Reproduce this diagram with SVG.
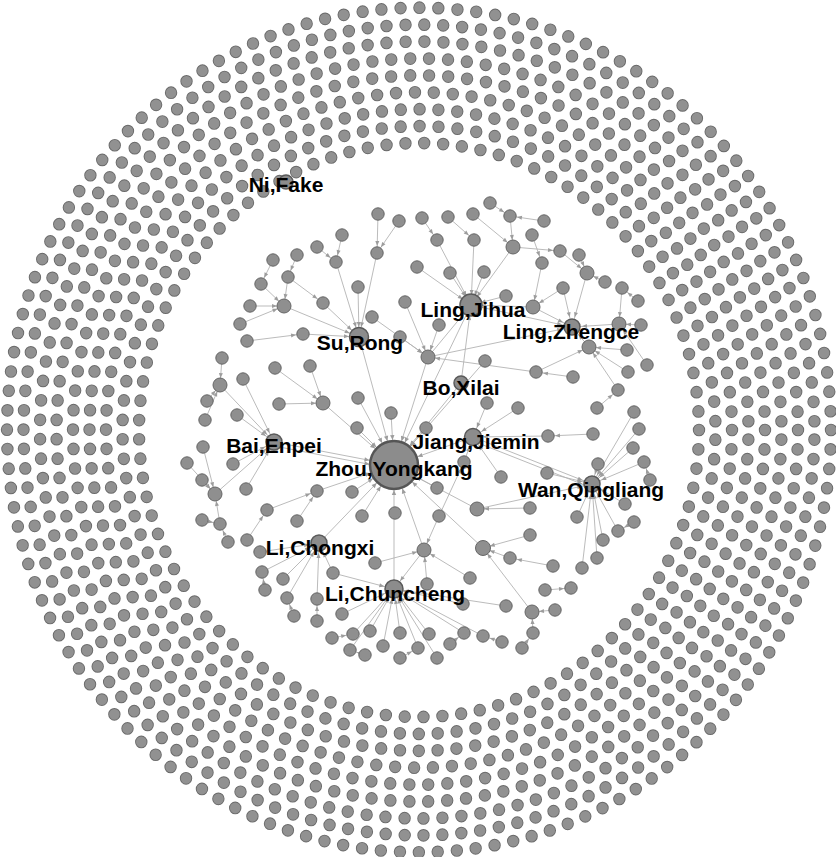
<svg xmlns="http://www.w3.org/2000/svg" width="836" height="857" viewBox="0 0 836 857">
<style>
.ro{fill:none;stroke:#6a6a6a;stroke-width:12.4;stroke-linecap:round}
.ri{fill:none;stroke:#919191;stroke-width:10.6;stroke-linecap:round}
#edges line{stroke:#b3b3b3;stroke-width:0.9;fill:none}
#edges .m{marker-end:url(#am)}
#edges .h{marker-end:url(#ah)}
#edges .z{marker-end:url(#az)}
#nodes circle{fill:#8f8f8f;stroke:#666;stroke-width:1}
#nodes .hub circle{fill:#8c8c8c;stroke:#5a5a5a;stroke-width:1.5}
#nodes #zhou circle{stroke-width:2.5;stroke:#555}
.lb{font-family:"Liberation Sans",Arial,sans-serif;font-weight:bold;font-size:21px;fill:#000;text-anchor:middle}
</style>
<defs>
<marker id="am" markerUnits="userSpaceOnUse" orient="auto" refX="0" refY="0" markerWidth="1" markerHeight="1" overflow="visible"><path d="M-12,-2 L-7,0 L-12,2z" fill="#9d9d9d"/></marker>
<marker id="ah" markerUnits="userSpaceOnUse" orient="auto" refX="0" refY="0" markerWidth="1" markerHeight="1" overflow="visible"><path d="M-15,-2 L-10,0 L-15,2z" fill="#9d9d9d"/></marker>
<marker id="az" markerUnits="userSpaceOnUse" orient="auto" refX="0" refY="0" markerWidth="1" markerHeight="1" overflow="visible"><path d="M-30,-2.2 L-25,0 L-30,2.2z" fill="#9d9d9d"/></marker>
</defs>
<rect width="836" height="857" fill="#fff"/>
<g id="ring" transform="translate(419 430) scale(1 1.025)">
<circle class="ro" r="280" stroke-dasharray="0 18.917"/><circle class="ri" r="280" stroke-dasharray="0 18.917"/>
<circle class="ro" r="296.5" stroke-dasharray="0 19.010" stroke-dashoffset="9.5"/><circle class="ri" r="296.5" stroke-dasharray="0 19.010" stroke-dashoffset="9.5"/>
<circle class="ro" r="313" stroke-dasharray="0 18.910"/><circle class="ri" r="313" stroke-dasharray="0 18.910"/>
<circle class="ro" r="329.5" stroke-dasharray="0 18.994" stroke-dashoffset="9.5"/><circle class="ri" r="329.5" stroke-dasharray="0 18.994" stroke-dashoffset="9.5"/>
<circle class="ro" r="346" stroke-dasharray="0 19.070"/><circle class="ri" r="346" stroke-dasharray="0 19.070"/>
<circle class="ro" r="362.5" stroke-dasharray="0 18.980" stroke-dashoffset="9.5"/><circle class="ri" r="362.5" stroke-dasharray="0 18.980" stroke-dashoffset="9.5"/>
<circle class="ro" r="379" stroke-dasharray="0 19.051"/><circle class="ri" r="379" stroke-dasharray="0 19.051"/>
<circle class="ro" r="395.5" stroke-dasharray="0 18.969" stroke-dashoffset="9.5"/><circle class="ri" r="395.5" stroke-dasharray="0 18.969" stroke-dashoffset="9.5"/>
<circle class="ro" r="412" stroke-dasharray="0 19.034"/><circle class="ri" r="412" stroke-dasharray="0 19.034"/>
</g>
<g id="edges">
<line x1="342" y1="235" x2="336" y2="262" class="m"/>
<line x1="317" y1="247" x2="336" y2="262" class="m"/>
<line x1="336" y1="262" x2="359" y2="337" class="h"/>
<line x1="297" y1="255" x2="288" y2="277" class="m"/>
<line x1="288" y1="277" x2="284" y2="306" class="m"/>
<line x1="273" y1="260" x2="261" y2="284" class="m"/>
<line x1="261" y1="284" x2="284" y2="306" class="m"/>
<line x1="250" y1="306" x2="284" y2="306" class="m"/>
<line x1="240" y1="324" x2="284" y2="306" class="m"/>
<line x1="288" y1="277" x2="323" y2="303" class="m"/>
<line x1="284" y1="306" x2="359" y2="337" class="h"/>
<line x1="323" y1="303" x2="359" y2="337" class="h"/>
<line x1="247" y1="341" x2="303" y2="334" class="m"/>
<line x1="303" y1="334" x2="359" y2="337" class="h"/>
<line x1="358" y1="287" x2="359" y2="337" class="h"/>
<line x1="378" y1="214" x2="377" y2="253" class="m"/>
<line x1="399" y1="221" x2="377" y2="253" class="m"/>
<line x1="377" y1="253" x2="359" y2="337" class="h"/>
<line x1="372" y1="317" x2="428" y2="357" class="m"/>
<line x1="400" y1="337" x2="428" y2="357" class="m"/>
<line x1="405" y1="302" x2="428" y2="357" class="m"/>
<line x1="439" y1="325" x2="428" y2="357" class="m"/>
<line x1="359" y1="337" x2="394" y2="465" class="z"/>
<line x1="222" y1="358" x2="220" y2="385" class="m"/>
<line x1="207" y1="401" x2="220" y2="385" class="m"/>
<line x1="205" y1="420" x2="220" y2="385" class="m"/>
<line x1="220" y1="385" x2="274" y2="442" class="h"/>
<line x1="243" y1="379" x2="274" y2="442" class="h"/>
<line x1="237" y1="415" x2="274" y2="442" class="h"/>
<line x1="275" y1="368" x2="323" y2="403" class="m"/>
<line x1="310" y1="366" x2="323" y2="403" class="m"/>
<line x1="279" y1="404" x2="323" y2="403" class="m"/>
<line x1="323" y1="403" x2="394" y2="465" class="z"/>
<line x1="358" y1="398" x2="394" y2="465" class="z"/>
<line x1="391" y1="413" x2="394" y2="465" class="z"/>
<line x1="357" y1="428" x2="394" y2="465" class="z"/>
<line x1="426" y1="428" x2="394" y2="465" class="z"/>
<line x1="203" y1="447" x2="215" y2="494" class="m"/>
<line x1="202" y1="480" x2="215" y2="494" class="m"/>
<line x1="187" y1="463" x2="215" y2="494" class="m"/>
<line x1="215" y1="494" x2="274" y2="442" class="h"/>
<line x1="233" y1="464" x2="274" y2="442" class="h"/>
<line x1="246" y1="489" x2="274" y2="442" class="h"/>
<line x1="274" y1="442" x2="394" y2="465" class="z"/>
<line x1="274" y1="446" x2="394" y2="469" class="z"/>
<line x1="220" y1="524" x2="215" y2="494" class="m"/>
<line x1="228" y1="542" x2="220" y2="524" class="m"/>
<line x1="202" y1="520" x2="220" y2="524" class="m"/>
<line x1="317" y1="491" x2="394" y2="465" class="z"/>
<line x1="352" y1="492" x2="394" y2="465" class="z"/>
<line x1="267" y1="510" x2="317" y2="491" class="m"/>
<line x1="247" y1="540" x2="267" y2="510" class="m"/>
<line x1="297" y1="521" x2="317" y2="491" class="m"/>
<line x1="319" y1="543" x2="394" y2="465" class="z"/>
<line x1="260" y1="552" x2="319" y2="543" class="h"/>
<line x1="262" y1="572" x2="319" y2="543" class="h"/>
<line x1="265" y1="590" x2="262" y2="572" class="m"/>
<line x1="283" y1="579" x2="319" y2="543" class="h"/>
<line x1="287" y1="598" x2="319" y2="543" class="h"/>
<line x1="294" y1="616" x2="287" y2="598" class="m"/>
<line x1="333" y1="573" x2="319" y2="543" class="h"/>
<line x1="317" y1="599" x2="319" y2="543" class="h"/>
<line x1="317" y1="621" x2="317" y2="599" class="m"/>
<line x1="333" y1="573" x2="394" y2="589" class="h"/>
<line x1="342" y1="614" x2="394" y2="589" class="h"/>
<line x1="332" y1="638" x2="353" y2="634" class="m"/>
<line x1="353" y1="634" x2="394" y2="589" class="h"/>
<line x1="394" y1="589" x2="394" y2="465" class="z"/>
<line x1="362" y1="516" x2="394" y2="465" class="z"/>
<line x1="424" y1="550" x2="394" y2="465" class="z"/>
<line x1="424" y1="550" x2="394" y2="589" class="h"/>
<line x1="375" y1="563" x2="424" y2="550" class="m"/>
<line x1="439" y1="516" x2="424" y2="550" class="m"/>
<line x1="439" y1="516" x2="464" y2="462" class="m"/>
<line x1="464" y1="462" x2="473" y2="437" class="h"/>
<line x1="470" y1="578" x2="424" y2="550" class="m"/>
<line x1="427" y1="584" x2="424" y2="550" class="m"/>
<line x1="437" y1="488" x2="394" y2="465" class="z"/>
<line x1="501" y1="477" x2="473" y2="437" class="h"/>
<line x1="477" y1="509" x2="592" y2="484" class="h"/>
<line x1="477" y1="509" x2="394" y2="465" class="z"/>
<line x1="483" y1="548" x2="394" y2="465" class="z"/>
<line x1="510" y1="558" x2="483" y2="548" class="m"/>
<line x1="463" y1="604" x2="394" y2="589" class="h"/>
<line x1="506" y1="606" x2="394" y2="589" class="h"/>
<line x1="370" y1="631" x2="394" y2="589" class="h"/>
<line x1="400" y1="633" x2="394" y2="589" class="h"/>
<line x1="429" y1="634" x2="394" y2="589" class="h"/>
<line x1="464" y1="633" x2="394" y2="589" class="h"/>
<line x1="483" y1="636" x2="394" y2="589" class="h"/>
<line x1="350" y1="650" x2="394" y2="589" class="h"/>
<line x1="383" y1="646" x2="394" y2="589" class="h"/>
<line x1="418" y1="648" x2="394" y2="589" class="h"/>
<line x1="450" y1="644" x2="464" y2="633" class="m"/>
<line x1="365" y1="655" x2="350" y2="650" class="m"/>
<line x1="400" y1="658" x2="418" y2="648" class="m"/>
<line x1="437" y1="658" x2="394" y2="589" class="h"/>
<line x1="502" y1="642" x2="483" y2="636" class="m"/>
<line x1="422" y1="218" x2="437" y2="240" class="m"/>
<line x1="437" y1="240" x2="471" y2="305" class="h"/>
<line x1="448" y1="217" x2="474" y2="240" class="m"/>
<line x1="474" y1="240" x2="471" y2="305" class="h"/>
<line x1="473" y1="214" x2="513" y2="247" class="m"/>
<line x1="490" y1="203" x2="510" y2="216" class="m"/>
<line x1="510" y1="216" x2="513" y2="247" class="m"/>
<line x1="513" y1="247" x2="471" y2="305" class="h"/>
<line x1="417" y1="267" x2="471" y2="305" class="h"/>
<line x1="450" y1="273" x2="471" y2="305" class="h"/>
<line x1="484" y1="272" x2="471" y2="305" class="h"/>
<line x1="506" y1="296" x2="471" y2="305" class="h"/>
<line x1="428" y1="357" x2="471" y2="305" class="h"/>
<line x1="485" y1="361" x2="394" y2="465" class="z"/>
<line x1="471" y1="305" x2="394" y2="465" class="z"/>
<line x1="461" y1="383" x2="471" y2="305" class="h"/>
<line x1="461" y1="383" x2="394" y2="465" class="z"/>
<line x1="487" y1="403" x2="473" y2="437" class="h"/>
<line x1="518" y1="408" x2="473" y2="437" class="h"/>
<line x1="428" y1="357" x2="572" y2="327" class="h"/>
<line x1="428" y1="357" x2="394" y2="465" class="z"/>
<line x1="544" y1="221" x2="510" y2="216" class="m"/>
<line x1="532" y1="235" x2="542" y2="263" class="m"/>
<line x1="560" y1="251" x2="587" y2="273" class="m"/>
<line x1="579" y1="255" x2="587" y2="273" class="m"/>
<line x1="605" y1="282" x2="587" y2="273" class="m"/>
<line x1="587" y1="273" x2="572" y2="327" class="h"/>
<line x1="542" y1="263" x2="533" y2="307" class="m"/>
<line x1="563" y1="288" x2="533" y2="307" class="m"/>
<line x1="563" y1="288" x2="572" y2="327" class="h"/>
<line x1="513" y1="247" x2="560" y2="251" class="m"/>
<line x1="533" y1="307" x2="572" y2="327" class="h"/>
<line x1="533" y1="307" x2="471" y2="305" class="h"/>
<line x1="471" y1="305" x2="572" y2="327" class="h"/>
<line x1="622" y1="288" x2="619" y2="324" class="m"/>
<line x1="638" y1="301" x2="622" y2="288" class="m"/>
<line x1="619" y1="324" x2="572" y2="327" class="h"/>
<line x1="641" y1="325" x2="619" y2="324" class="m"/>
<line x1="589" y1="347" x2="572" y2="327" class="h"/>
<line x1="627" y1="350" x2="589" y2="347" class="m"/>
<line x1="647" y1="365" x2="619" y2="324" class="m"/>
<line x1="628" y1="372" x2="589" y2="347" class="m"/>
<line x1="536" y1="372" x2="589" y2="347" class="m"/>
<line x1="536" y1="372" x2="428" y2="357" class="m"/>
<line x1="573" y1="377" x2="536" y2="372" class="m"/>
<line x1="618" y1="390" x2="589" y2="347" class="m"/>
<line x1="597" y1="408" x2="618" y2="390" class="m"/>
<line x1="634" y1="412" x2="592" y2="484" class="h"/>
<line x1="548" y1="436" x2="473" y2="437" class="h"/>
<line x1="593" y1="434" x2="548" y2="436" class="m"/>
<line x1="639" y1="429" x2="592" y2="484" class="h"/>
<line x1="633" y1="448" x2="592" y2="484" class="h"/>
<line x1="598" y1="464" x2="592" y2="484" class="h"/>
<line x1="547" y1="473" x2="592" y2="484" class="h"/>
<line x1="473" y1="437" x2="592" y2="484" class="h"/>
<line x1="473" y1="441" x2="592" y2="488" class="h"/>
<line x1="644" y1="462" x2="592" y2="484" class="h"/>
<line x1="650" y1="480" x2="644" y2="462" class="m"/>
<line x1="625" y1="504" x2="592" y2="484" class="h"/>
<line x1="577" y1="517" x2="592" y2="484" class="h"/>
<line x1="530" y1="508" x2="477" y2="509" class="m"/>
<line x1="530" y1="535" x2="483" y2="548" class="m"/>
<line x1="618" y1="531" x2="592" y2="484" class="h"/>
<line x1="634" y1="522" x2="618" y2="531" class="m"/>
<line x1="603" y1="540" x2="592" y2="484" class="h"/>
<line x1="597" y1="558" x2="592" y2="484" class="h"/>
<line x1="582" y1="568" x2="592" y2="484" class="h"/>
<line x1="553" y1="566" x2="510" y2="558" class="m"/>
<line x1="545" y1="590" x2="571" y2="588" class="m"/>
<line x1="532" y1="612" x2="483" y2="548" class="m"/>
<line x1="555" y1="610" x2="532" y2="612" class="m"/>
<line x1="533" y1="633" x2="532" y2="612" class="m"/>
<line x1="522" y1="648" x2="533" y2="633" class="m"/>
<line x1="473" y1="437" x2="394" y2="465" class="z"/>
</g>
<g id="nodes">
<g id="n1"><circle cx="342" cy="235" r="6.2"/></g>
<g id="n2"><circle cx="317" cy="247" r="6.2"/></g>
<g id="n3"><circle cx="336" cy="262" r="6.2"/></g>
<g id="n4"><circle cx="297" cy="255" r="6.2"/></g>
<g id="n5"><circle cx="273" cy="260" r="6.2"/></g>
<g id="n6"><circle cx="288" cy="277" r="6.2"/></g>
<g id="n7"><circle cx="261" cy="284" r="6.2"/></g>
<g id="n8"><circle cx="284" cy="306" r="7"/></g>
<g id="n9"><circle cx="250" cy="306" r="6.2"/></g>
<g id="n10"><circle cx="323" cy="303" r="6.2"/></g>
<g id="n11"><circle cx="240" cy="324" r="6.2"/></g>
<g id="n12"><circle cx="303" cy="334" r="6.2"/></g>
<g id="n13"><circle cx="247" cy="341" r="6.2"/></g>
<g id="n14"><circle cx="358" cy="287" r="6.2"/></g>
<g id="n15"><circle cx="378" cy="214" r="6.2"/></g>
<g id="n16"><circle cx="399" cy="221" r="6.2"/></g>
<g id="n17"><circle cx="377" cy="253" r="6.2"/></g>
<g id="n18"><circle cx="372" cy="317" r="6.2"/></g>
<g id="n19"><circle cx="400" cy="337" r="6.2"/></g>
<g id="n20"><circle cx="222" cy="358" r="6.2"/></g>
<g id="n21"><circle cx="220" cy="385" r="7"/></g>
<g id="n22"><circle cx="207" cy="401" r="6.2"/></g>
<g id="n23"><circle cx="205" cy="420" r="6.2"/></g>
<g id="n24"><circle cx="243" cy="379" r="6.2"/></g>
<g id="n25"><circle cx="275" cy="368" r="6.2"/></g>
<g id="n26"><circle cx="310" cy="366" r="6.2"/></g>
<g id="n27"><circle cx="279" cy="404" r="6.2"/></g>
<g id="n28"><circle cx="323" cy="403" r="7"/></g>
<g id="n29"><circle cx="358" cy="398" r="6.2"/></g>
<g id="n30"><circle cx="237" cy="415" r="6.2"/></g>
<g id="n31"><circle cx="391" cy="413" r="6.2"/></g>
<g id="n32"><circle cx="357" cy="428" r="6.2"/></g>
<g id="n33"><circle cx="426" cy="428" r="6.2"/></g>
<g id="n34"><circle cx="203" cy="447" r="6.2"/></g>
<g id="n35"><circle cx="233" cy="464" r="6.2"/></g>
<g id="n36"><circle cx="215" cy="494" r="7"/></g>
<g id="n37"><circle cx="202" cy="480" r="6.2"/></g>
<g id="n38"><circle cx="187" cy="463" r="6.2"/></g>
<g id="n39"><circle cx="246" cy="489" r="6.2"/></g>
<g id="n40"><circle cx="202" cy="520" r="6.2"/></g>
<g id="n41"><circle cx="220" cy="524" r="6.2"/></g>
<g id="n42"><circle cx="228" cy="542" r="6.2"/></g>
<g id="n43"><circle cx="317" cy="491" r="6.2"/></g>
<g id="n44"><circle cx="352" cy="492" r="6.2"/></g>
<g id="n45"><circle cx="267" cy="510" r="6.2"/></g>
<g id="n46"><circle cx="297" cy="521" r="6.2"/></g>
<g id="n47"><circle cx="247" cy="540" r="6.2"/></g>
<g id="n48"><circle cx="260" cy="552" r="6.2"/></g>
<g id="n49"><circle cx="262" cy="572" r="6.2"/></g>
<g id="n50"><circle cx="265" cy="590" r="6.2"/></g>
<g id="n51"><circle cx="283" cy="579" r="6.2"/></g>
<g id="n52"><circle cx="287" cy="598" r="6.2"/></g>
<g id="n53"><circle cx="294" cy="616" r="6.2"/></g>
<g id="n54"><circle cx="333" cy="573" r="6.2"/></g>
<g id="n55"><circle cx="317" cy="599" r="6.2"/></g>
<g id="n56"><circle cx="317" cy="621" r="6.2"/></g>
<g id="n57"><circle cx="342" cy="614" r="6.2"/></g>
<g id="n58"><circle cx="332" cy="638" r="6.2"/></g>
<g id="n59"><circle cx="353" cy="634" r="6.2"/></g>
<g id="n61"><circle cx="395" cy="513" r="6.2"/></g>
<g id="n62"><circle cx="362" cy="516" r="6.2"/></g>
<g id="n63"><circle cx="437" cy="488" r="6.2"/></g>
<g id="n64"><circle cx="439" cy="516" r="6.2"/></g>
<g id="n65"><circle cx="464" cy="462" r="6.2"/></g>
<g id="n66"><circle cx="501" cy="477" r="6.2"/></g>
<g id="n67"><circle cx="477" cy="509" r="7"/></g>
<g id="n68"><circle cx="424" cy="550" r="7"/></g>
<g id="n69"><circle cx="375" cy="563" r="6.2"/></g>
<g id="n70"><circle cx="483" cy="548" r="7.5"/></g>
<g id="n71"><circle cx="510" cy="558" r="6.2"/></g>
<g id="n72"><circle cx="470" cy="578" r="6.2"/></g>
<g id="n73"><circle cx="427" cy="584" r="6.2"/></g>
<g id="n74"><circle cx="463" cy="604" r="6.2"/></g>
<g id="n75"><circle cx="506" cy="606" r="6.2"/></g>
<g id="n76"><circle cx="370" cy="631" r="6.2"/></g>
<g id="n77"><circle cx="400" cy="633" r="6.2"/></g>
<g id="n78"><circle cx="429" cy="634" r="6.2"/></g>
<g id="n79"><circle cx="464" cy="633" r="6.2"/></g>
<g id="n80"><circle cx="483" cy="636" r="6.2"/></g>
<g id="n81"><circle cx="502" cy="642" r="6.2"/></g>
<g id="n82"><circle cx="383" cy="646" r="6.2"/></g>
<g id="n83"><circle cx="418" cy="648" r="6.2"/></g>
<g id="n84"><circle cx="450" cy="644" r="6.2"/></g>
<g id="n85"><circle cx="365" cy="655" r="6.2"/></g>
<g id="n86"><circle cx="400" cy="658" r="6.2"/></g>
<g id="n87"><circle cx="437" cy="658" r="6.2"/></g>
<g id="n88"><circle cx="350" cy="650" r="6.2"/></g>
<g id="n89"><circle cx="422" cy="218" r="6.2"/></g>
<g id="n90"><circle cx="437" cy="240" r="6.2"/></g>
<g id="n91"><circle cx="448" cy="217" r="6.2"/></g>
<g id="n92"><circle cx="474" cy="240" r="6.2"/></g>
<g id="n93"><circle cx="473" cy="214" r="6.2"/></g>
<g id="n94"><circle cx="490" cy="203" r="6.2"/></g>
<g id="n95"><circle cx="510" cy="216" r="6.2"/></g>
<g id="n96"><circle cx="513" cy="247" r="7"/></g>
<g id="n97"><circle cx="417" cy="267" r="6.2"/></g>
<g id="n98"><circle cx="450" cy="273" r="6.2"/></g>
<g id="n99"><circle cx="484" cy="272" r="6.2"/></g>
<g id="n100"><circle cx="506" cy="296" r="6.2"/></g>
<g id="n101"><circle cx="405" cy="302" r="6.2"/></g>
<g id="n102"><circle cx="439" cy="325" r="6.2"/></g>
<g id="n103"><circle cx="428" cy="357" r="7"/></g>
<g id="n104"><circle cx="485" cy="361" r="6.2"/></g>
<g id="n105"><circle cx="487" cy="403" r="6.2"/></g>
<g id="n106"><circle cx="518" cy="408" r="6.2"/></g>
<g id="n110"><circle cx="544" cy="221" r="6.2"/></g>
<g id="n111"><circle cx="532" cy="235" r="6.2"/></g>
<g id="n112"><circle cx="560" cy="251" r="6.2"/></g>
<g id="n113"><circle cx="579" cy="255" r="6.2"/></g>
<g id="n114"><circle cx="587" cy="273" r="7"/></g>
<g id="n115"><circle cx="605" cy="282" r="6.2"/></g>
<g id="n116"><circle cx="542" cy="263" r="6.2"/></g>
<g id="n117"><circle cx="563" cy="288" r="6.2"/></g>
<g id="n118"><circle cx="533" cy="307" r="7"/></g>
<g id="n119"><circle cx="622" cy="288" r="6.2"/></g>
<g id="n120"><circle cx="638" cy="301" r="6.2"/></g>
<g id="n121"><circle cx="619" cy="324" r="7"/></g>
<g id="n122"><circle cx="641" cy="325" r="6.2"/></g>
<g id="n123"><circle cx="589" cy="347" r="7"/></g>
<g id="n124"><circle cx="627" cy="350" r="6.2"/></g>
<g id="n125"><circle cx="647" cy="365" r="6.2"/></g>
<g id="n126"><circle cx="628" cy="372" r="6.2"/></g>
<g id="n127"><circle cx="536" cy="372" r="6.2"/></g>
<g id="n128"><circle cx="573" cy="377" r="6.2"/></g>
<g id="n129"><circle cx="618" cy="390" r="6.2"/></g>
<g id="n130"><circle cx="597" cy="408" r="6.2"/></g>
<g id="n132"><circle cx="634" cy="412" r="6.2"/></g>
<g id="n133"><circle cx="548" cy="436" r="6.2"/></g>
<g id="n134"><circle cx="593" cy="434" r="6.2"/></g>
<g id="n135"><circle cx="639" cy="429" r="6.2"/></g>
<g id="n136"><circle cx="633" cy="448" r="6.2"/></g>
<g id="n137"><circle cx="598" cy="464" r="6.2"/></g>
<g id="n138"><circle cx="547" cy="473" r="6.2"/></g>
<g id="n139"><circle cx="644" cy="462" r="6.2"/></g>
<g id="n140"><circle cx="650" cy="480" r="6.2"/></g>
<g id="n141"><circle cx="625" cy="504" r="6.2"/></g>
<g id="n142"><circle cx="577" cy="517" r="6.2"/></g>
<g id="n143"><circle cx="530" cy="508" r="6.2"/></g>
<g id="n144"><circle cx="530" cy="535" r="6.2"/></g>
<g id="n145"><circle cx="634" cy="522" r="6.2"/></g>
<g id="n146"><circle cx="618" cy="531" r="6.2"/></g>
<g id="n147"><circle cx="603" cy="540" r="6.2"/></g>
<g id="n148"><circle cx="597" cy="558" r="6.2"/></g>
<g id="n149"><circle cx="582" cy="568" r="6.2"/></g>
<g id="n150"><circle cx="553" cy="566" r="6.2"/></g>
<g id="n151"><circle cx="545" cy="590" r="6.2"/></g>
<g id="n152"><circle cx="571" cy="588" r="6.2"/></g>
<g id="n153"><circle cx="532" cy="612" r="7"/></g>
<g id="n154"><circle cx="555" cy="610" r="6.2"/></g>
<g id="n155"><circle cx="533" cy="633" r="6.2"/></g>
<g id="n156"><circle cx="522" cy="648" r="6.2"/></g>
<g id="bo_xilai" class="hub"><circle cx="461" cy="383" r="7"/></g>
<g id="su_rong" class="hub"><circle cx="359" cy="337" r="9.5"/></g>
<g id="ling_jihua" class="hub"><circle cx="471" cy="305" r="11"/></g>
<g id="ling_zhengce" class="hub"><circle cx="572" cy="327" r="8"/></g>
<g id="jiang_jiemin" class="hub"><circle cx="473" cy="437" r="8.5"/></g>
<g id="bai_enpei" class="hub"><circle cx="274" cy="442" r="8"/></g>
<g id="wan_qingliang" class="hub"><circle cx="592" cy="484" r="8"/></g>
<g id="li_chongxi" class="hub"><circle cx="319" cy="543" r="8"/></g>
<g id="li_chuncheng" class="hub"><circle cx="394" cy="589" r="9"/></g>
<g id="ni_fake" class="hub"><circle cx="286" cy="182" r="7"/></g>
<g id="zhou" class="hub"><circle cx="394" cy="465" r="24"/></g>
</g>
<g id="labels">
<text class="lb" x="286" y="192">Ni,Fake</text>
<text class="lb" x="360" y="350">Su,Rong</text>
<text class="lb" x="473" y="317">Ling,Jihua</text>
<text class="lb" x="571" y="339">Ling,Zhengce</text>
<text class="lb" x="461" y="395">Bo,Xilai</text>
<text class="lb" x="476" y="449">Jiang,Jiemin</text>
<text class="lb" x="394" y="476">Zhou,Yongkang</text>
<text class="lb" x="274" y="453">Bai,Enpei</text>
<text class="lb" x="591" y="497">Wan,Qingliang</text>
<text class="lb" x="320" y="555">Li,Chongxi</text>
<text class="lb" x="395" y="601">Li,Chuncheng</text>
</g>
</svg>
